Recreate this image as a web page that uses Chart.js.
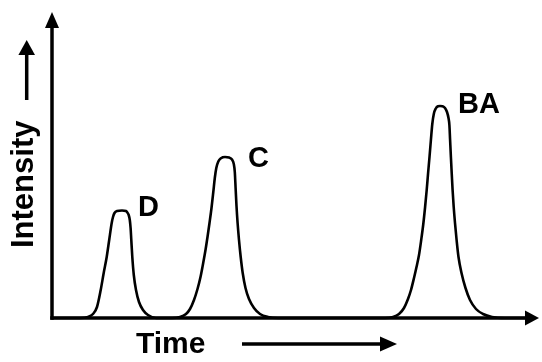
<!DOCTYPE html>
<html>
<head>
<meta charset="utf-8">
<script src="https://cdn.jsdelivr.net/npm/chart.js@4/dist/chart.umd.min.js"></script>
<style>
  html, body { margin: 0; padding: 0; background: #ffffff; }
  #wrap { width: 542px; height: 362px; }
</style>
</head>
<body>
<div id="wrap"><canvas id="c" width="542" height="362"></canvas></div>
<script>
// ---- data ----
const timeValues = [
  0,
  2.8, 3.6, 4.1, 4.5, 4.87, 5.17, 5.47, 5.72, 5.97, 6.1, 6.25, 6.5, 7.0, 7.4, 7.5, 7.67, 7.78, 7.86, 7.93, 8.03, 8.18, 8.4, 8.7, 9.1, 9.6, 10.4,
  12.0, 12.8, 13.4, 13.8, 14.2, 14.55, 14.85, 15.12, 15.35, 15.55, 15.75, 15.95, 16.13, 16.28, 16.43, 16.63, 16.9, 17.3, 17.7, 18.0, 18.18, 18.28, 18.36, 18.45, 18.56, 18.7, 18.87, 19.07, 19.35, 19.7, 20.2, 20.8, 21.6, 22.6,
  33.3, 34.1, 34.7, 35.2, 35.6, 35.9, 36.2, 36.45, 36.7, 36.92, 37.13, 37.31, 37.47, 37.61, 37.75, 37.89, 38.03, 38.18, 38.38, 38.6, 38.8, 39.05, 39.3, 39.5, 39.65, 39.74, 39.81, 39.89, 39.97, 40.06, 40.17, 40.3, 40.46, 40.65, 40.95, 41.35, 41.8, 42.4, 43.1, 44.0, 45.3, 47.3
];
const intensityValues = [
  0,
  0, 0.1, 0.4, 1.1, 2.8, 4.5, 6.1, 7.8, 9.5, 10.1, 10.5, 10.7, 10.75, 10.7, 10.6, 10.3, 9.8, 9.0, 7.8, 6.1, 4.3, 2.8, 1.6, 0.8, 0.3, 0,
  0, 0.1, 0.4, 0.9, 1.8, 2.9, 4.1, 5.5, 6.8, 8.1, 9.5, 11.0, 12.6, 14.0, 15.0, 15.65, 15.98, 16.1, 16.05, 15.85, 15.4, 14.6, 13.0, 11.2, 9.5, 7.8, 6.1, 4.5, 3.0, 1.9, 1.0, 0.4, 0.1, 0,
  0, 0.1, 0.4, 1.0, 1.9, 2.8, 4.0, 5.1, 6.3, 7.8, 9.4, 11.1, 12.8, 14.5, 16.1, 17.8, 19.4, 20.4, 20.95, 21.17, 21.2, 21.17, 21.0, 20.6, 20.0, 19.3, 17.8, 16.1, 14.5, 12.8, 11.1, 9.5, 7.8, 6.1, 4.5, 3.0, 1.8, 0.9, 0.4, 0.1, 0, 0
];
const peakLabels = ['D', 'C', 'BA'];
const xAxisTitle = 'Time';
const yAxisTitle = 'Intensity';
const timeRange = [0, 48.8];
const intensityRange = [0, 30.6];

// label placement relative to each peak apex (style)
const labelDx = [16, 23, 18];
const labelDy = [5, 10, 7];

const points = timeValues.map((t, i) => ({ x: t, y: intensityValues[i] }));

function arrowHead(ctx, tipX, tipY, dir, len, half) {
  ctx.beginPath();
  if (dir === 'up') {
    ctx.moveTo(tipX, tipY);
    ctx.lineTo(tipX - half, tipY + len);
    ctx.lineTo(tipX + half, tipY + len);
  } else {
    ctx.moveTo(tipX, tipY);
    ctx.lineTo(tipX - len, tipY - half);
    ctx.lineTo(tipX - len, tipY + half);
  }
  ctx.closePath();
  ctx.fill();
}

const decorations = {
  id: 'decorations',
  afterDatasetsDraw(chart) {
    const ctx = chart.ctx;
    const a = chart.chartArea;
    const xs = chart.scales.x, ys = chart.scales.y;
    const x0 = xs.getPixelForValue(timeRange[0]);
    const y0 = ys.getPixelForValue(intensityRange[0]);
    ctx.save();
    ctx.fillStyle = '#000';
    ctx.strokeStyle = '#000';
    ctx.lineWidth = 3.5;
    ctx.lineCap = 'butt';
    // y axis
    ctx.beginPath();
    ctx.moveTo(x0, y0 + 1.75);
    ctx.lineTo(x0, a.top + 12);
    ctx.stroke();
    arrowHead(ctx, x0, a.top, 'up', 16, 7);
    // x axis
    ctx.beginPath();
    ctx.moveTo(x0 - 1.75, y0);
    ctx.lineTo(a.right - 10, y0);
    ctx.stroke();
    arrowHead(ctx, a.right - 1, y0, 'right', 14, 7.5);

    // peak labels at local maxima
    const peaks = [];
    for (let i = 1; i < intensityValues.length - 1; i++) {
      if (intensityValues[i] > 5 && intensityValues[i] >= intensityValues[i - 1] && intensityValues[i] > intensityValues[i + 1]) peaks.push(i);
    }
    ctx.font = 'bold 29px "Liberation Sans", Arial, sans-serif';
    ctx.textAlign = 'left';
    ctx.textBaseline = 'alphabetic';
    peaks.forEach((idx, k) => {
      if (k >= peakLabels.length) return;
      const px = xs.getPixelForValue(timeValues[idx]);
      const py = ys.getPixelForValue(intensityValues[idx]);
      ctx.fillText(peakLabels[k], px + labelDx[k], py + labelDy[k]);
    });

    // x title + arrow
    ctx.font = 'bold 30px "Liberation Sans", Arial, sans-serif';
    ctx.fillText(xAxisTitle, 136, 353);
    ctx.lineWidth = 3.5;
    ctx.beginPath();
    ctx.moveTo(242, 344);
    ctx.lineTo(384, 344);
    ctx.stroke();
    arrowHead(ctx, 397, 344, 'right', 17, 7.5);

    // y title + arrow
    ctx.save();
    ctx.translate(33, 248);
    ctx.rotate(-Math.PI / 2);
    ctx.font = 'bold 31px "Liberation Sans", Arial, sans-serif';
    ctx.fillText(yAxisTitle, 0, 0);
    ctx.restore();
    ctx.beginPath();
    ctx.moveTo(26.7, 100);
    ctx.lineTo(26.7, 52);
    ctx.stroke();
    arrowHead(ctx, 26.7, 40, 'up', 15, 8.3);
    ctx.restore();
  }
};

new Chart(document.getElementById('c'), {
  type: 'line',
  data: {
    datasets: [{
      data: points,
      borderColor: '#000',
      borderWidth: 2.6,
      pointRadius: 0,
      fill: false,
      cubicInterpolationMode: 'monotone',
      clip: false
    }]
  },
  options: {
    responsive: false,
    animation: false,
    devicePixelRatio: 1,
    layout: { padding: { left: 52, right: 2, top: 12, bottom: 44 } },
    plugins: { legend: { display: false }, tooltip: { enabled: false } },
    scales: {
      x: { type: 'linear', min: timeRange[0], max: timeRange[1], display: false },
      y: { type: 'linear', min: intensityRange[0], max: intensityRange[1], display: false }
    }
  },
  plugins: [decorations]
});
</script>
</body>
</html>
